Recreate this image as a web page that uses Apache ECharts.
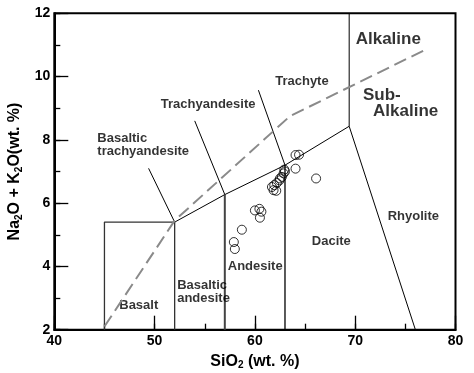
<!DOCTYPE html>
<html><head><meta charset="utf-8">
<script src="https://cdn.jsdelivr.net/npm/echarts@6/dist/echarts.min.js"></script>
<style>html,body{margin:0;padding:0;background:#fff}#c{width:474px;height:373px}</style>
</head><body><div id="c"></div>
<script>
// Sample data: SiO2 (wt.%) and Na2O+K2O (wt.%)
const sio2   = [57.9, 58.0, 58.7, 60.0, 60.45, 60.65, 60.5, 64.05, 64.4, 64.05, 66.1, 62.93, 63.0, 62.86, 62.69, 62.45, 62.19, 61.93, 61.7, 61.86, 62.13, 62.5];
const alkali = [4.77, 4.55, 5.16, 5.77, 5.82, 5.73, 5.54, 7.52, 7.53, 7.09, 6.78, 7.06, 7.0, 6.94, 6.83, 6.72, 6.64, 6.57, 6.51, 6.41, 6.39, 6.78];

// TAS field boundaries
const basaltBox      = [[45,2],[45,5.4],[52,5.4],[52,2]];
const mainBoundary   = [[52,5.4],[57,6.27],[63,7.2],[69.4,8.43]];
const andesiteLine   = [[57,2],[57,6.27]];
const daciteLine     = [[63,2],[63,7.2]];
const rhyoliteLine   = [[69.4,8.43],[76,2]];
const verticalLimit  = [[69.4,8.43],[69.4,12]];
const basTrachyLine  = [[49.4,7.1],[52,5.4]];
const trachyandLine  = [[54.0,8.6],[57,6.27]];
const trachyteLine   = [[60.35,9.57],[63,7.2]];
const alkalineDivide = [[45,2.1],[52,5.45],[63.5,8.75],[77,10.85]];

// Field labels
const fieldNames = ['Trachyte','Trachyandesite','Basaltic\ntrachyandesite','Basalt','Basaltic\nandesite','Andesite','Dacite','Rhyolite'];
const fieldX     = [64.69, 55.34, 44.29, 48.42, 52.25, 60.03, 67.62, 75.8];
const fieldY     = [9.84, 9.13, 7.83, 2.78, 3.18, 4.0, 4.79, 5.59];
const fieldAlign = ['center','center','left','center','left','center','center','center'];
const seriesNames = ['Alkaline','Sub-','Alkaline'];
const seriesX     = [73.3, 70.77, 71.78];
const seriesY     = [11.19, 9.40, 8.91];
const seriesAlign = ['center','left','left'];

const xTicks = [40, 50, 60, 70, 80];
const yTicks = [2, 4, 6, 8, 10, 12];

const FONT = 'Liberation Sans, Arial, sans-serif';
const chart = echarts.init(document.getElementById('c'));

function lineSeries(data, opts) {
  return Object.assign({
    type: 'line', data: data, symbol: 'none', silent: true, animation: false,
    lineStyle: { color: '#000', width: 1 }, z: 2
  }, opts || {});
}

const series = [
  lineSeries(basaltBox, { lineStyle: { color: '#333', width: 1.3 } }),
  lineSeries(mainBoundary),
  lineSeries(andesiteLine, { lineStyle: { color: '#444', width: 2 } }),
  lineSeries(daciteLine, { lineStyle: { color: '#000', width: 1.3 } }),
  lineSeries(rhyoliteLine),
  lineSeries(verticalLimit),
  lineSeries(basTrachyLine),
  lineSeries(trachyandLine),
  lineSeries(trachyteLine),
  lineSeries(alkalineDivide, { lineStyle: { color: '#8a8a8a', width: 2, type: [13, 6] }, z: 3 }),
  {
    type: 'scatter', animation: false, z: 5,
    data: sio2.map((x, i) => [x, alkali[i]]),
    symbol: 'circle', symbolSize: 9,
    itemStyle: { color: 'rgba(0,0,0,0)', borderColor: '#000', borderWidth: 1 }
  },
  {
    type: 'scatter', animation: false, silent: true, symbolSize: 0,
    data: fieldNames.map((n, i) => ({ value: [fieldX[i], fieldY[i]], name: n,
      label: { align: fieldAlign[i] } })),
    label: { show: true, position: 'inside', formatter: p => p.name,
      color: '#000', fontFamily: FONT, fontWeight: 'bold', fontSize: 13, lineHeight: 13 }
  },
  {
    type: 'scatter', animation: false, silent: true, symbolSize: 0,
    data: seriesNames.map((n, i) => ({ value: [seriesX[i], seriesY[i]], name: n,
      label: { align: seriesAlign[i] } })),
    label: { show: true, position: 'inside', formatter: p => p.name,
      color: '#000', fontFamily: FONT, fontWeight: 'bold', fontSize: 17 }
  }
];

const nameStyle = { color: '#000', fontFamily: FONT, fontWeight: 'bold', fontSize: 16, lineHeight: 18,
  rich: { sub: { fontSize: 10, fontFamily: FONT, fontWeight: 'bold', verticalAlign: 'bottom', lineHeight: 18 } } };
const labelStyle = { color: '#000', fontFamily: FONT, fontWeight: 'bold', fontSize: 14, margin: 4 };

const gridBox = { left: 54.3, right: 18.5, top: 13.3, bottom: 43.3, outerBoundsMode: 'none', containLabel: false };

function hiddenAxis(i, min, max, interval) {
  return { type: 'value', gridIndex: i, min: min, max: max, interval: interval,
    axisLine: { show: false, onZero: false }, axisTick: { show: false },
    axisLabel: { show: false }, splitLine: { show: false } };
}
function minorAxis(min, max, interval) {
  return { type: 'value', gridIndex: 2, min: min, max: max, interval: interval,
    axisLine: { show: false, onZero: false },
    axisTick: { show: true, inside: true, length: 6, lineStyle: { color: '#000', width: 1.3 } },
    axisLabel: { show: false }, splitLine: { show: false } };
}

chart.setOption({
  animation: false,
  backgroundColor: '#fff',
  grid: [
    Object.assign({ show: true, borderColor: '#000', borderWidth: 2 }, gridBox),
    Object.assign({}, gridBox),
    Object.assign({}, gridBox)
  ],
  xAxis: [
    hiddenAxis(0, 40, 80, 10),
    {
      type: 'value', gridIndex: 1, min: 40, max: 80, interval: 10,
      name: 'SiO{sub|2} (wt. %)', nameLocation: 'middle', nameGap: 22, nameTextStyle: nameStyle,
      axisLine: { show: true, onZero: false, lineStyle: { color: '#000', width: 2 } },
      axisTick: { show: true, inside: true, length: 14, lineStyle: { color: '#000', width: 1.3 } },
      splitLine: { show: false },
      axisLabel: Object.assign({ formatter: v => xTicks.includes(v) ? String(v) : '' }, labelStyle)
    },
    minorAxis(40, 80, 5)
  ],
  yAxis: [
    hiddenAxis(0, 2, 12, 2),
    {
      type: 'value', gridIndex: 1, min: 2, max: 12, interval: 2,
      name: 'Na{sub|2}O + K{sub|2}O(wt. %)', nameLocation: 'middle', nameGap: 24, nameRotate: 90, nameTextStyle: nameStyle,
      axisLine: { show: true, onZero: false, lineStyle: { color: '#000', width: 2 } },
      axisTick: { show: true, inside: true, length: 14, lineStyle: { color: '#000', width: 1.3 } },
      splitLine: { show: false },
      axisLabel: Object.assign({ formatter: v => yTicks.includes(v) ? String(v) : '' }, labelStyle)
    },
    minorAxis(2, 12, 1)
  ],
  series: series
});
</script></body></html>
